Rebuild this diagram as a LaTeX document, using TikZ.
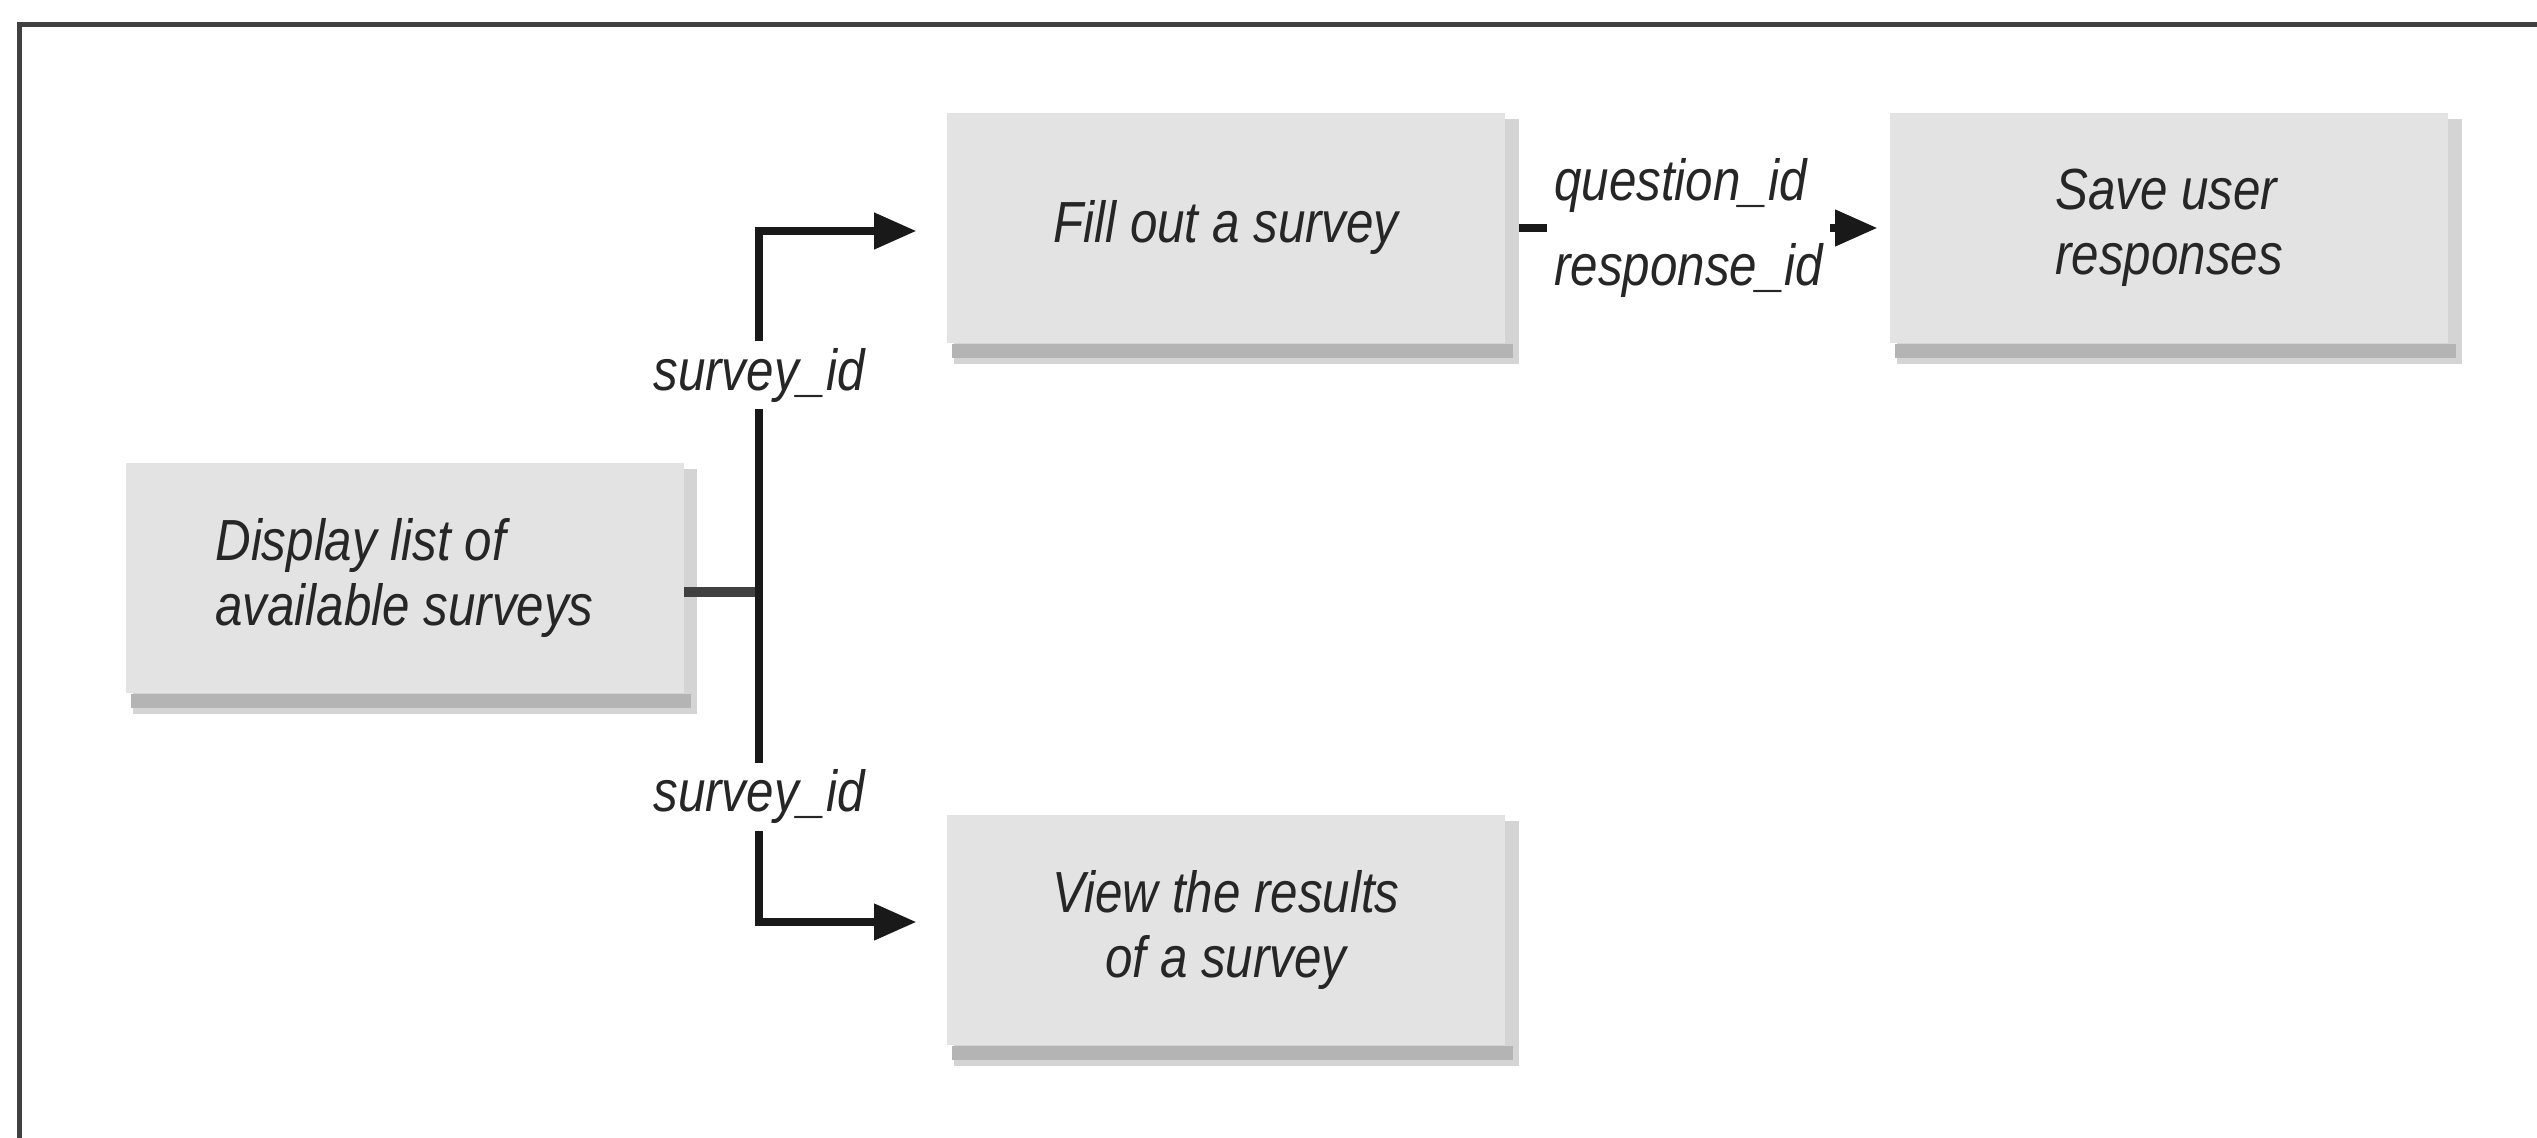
\documentclass[tikz,border=0pt]{standalone}
\usepackage{fontspec}
\setmainfont{Liberation Sans}[FakeStretch=0.85]
\usetikzlibrary{positioning}
\usetikzlibrary{arrows.meta}
\usetikzlibrary{backgrounds}

\definecolor{boxgray}{HTML}{E3E3E3}
\definecolor{shadelight}{HTML}{D4D4D4}
\definecolor{shadedark}{HTML}{B4B4B4}
\definecolor{framegray}{HTML}{404040}

\begin{document}
\begin{tikzpicture}[%
			every node/.style={font=\fontsize{16.5}{18.5}\selectfont\itshape, text=black!85},
			task/.style={fill=boxgray, minimum width=5.58cm, minimum height=2.3cm, inner sep=0pt},
			flow/.style={line width=2pt, black!90, -{Triangle[length=12pt, width=10pt]}},
			idlabel/.style={fill=white, inner xsep=2pt, inner ysep=2pt}]
			\useasboundingbox (0,0) rectangle (25.37,-11.38);
			\draw[framegray, line width=0.05cm] (0.19,-11.5) -- (0.19,-0.245) -- (25.5,-0.245);
			\node[task, align=left](list) at (4.045,-5.78){Display list of\\available surveys};
			\node[task](fillout) at (12.26,-2.28){Fill out a survey};
			\node[task, align=left](save) at (21.69,-2.28){Save user\\responses};
			\node[task, align=center](results) at (12.26,-9.30){View the results\\of a survey};
			\begin{scope}[on background layer]
				\foreach \n in {list, fillout, save, results}{
					\fill[shadelight] ([xshift=0.08cm, yshift=-0.07cm]\n.north west) rectangle ([xshift=0.13cm, yshift=-0.2cm]\n.south east);
					\fill[shadedark] ([xshift=0.06cm]\n.south west) rectangle ([xshift=0.07cm, yshift=-0.14cm]\n.south east);
				}
			\end{scope}
			\coordinate (hub) at (7.59,-5.92);
			\draw[framegray, line width=2.6pt] ([yshift=-1.4mm]list.east) -- (hub);
			\draw[flow] (hub) |- node[idlabel, pos=0.3]{survey\_id} ([xshift=-3mm, yshift=-0.3mm]fillout.west);
			\draw[flow] (hub) |- node[idlabel, pos=0.31]{survey\_id} ([xshift=-3mm, yshift=0.8mm]results.west);
			\draw[flow, shorten <=1.3mm, shorten >=1.2mm] (fillout.east) -- node[idlabel, pos=0.477, align=left]{question\_id\\[5.7pt]response\_id} (save.west);
\end{tikzpicture}
\end{document}
